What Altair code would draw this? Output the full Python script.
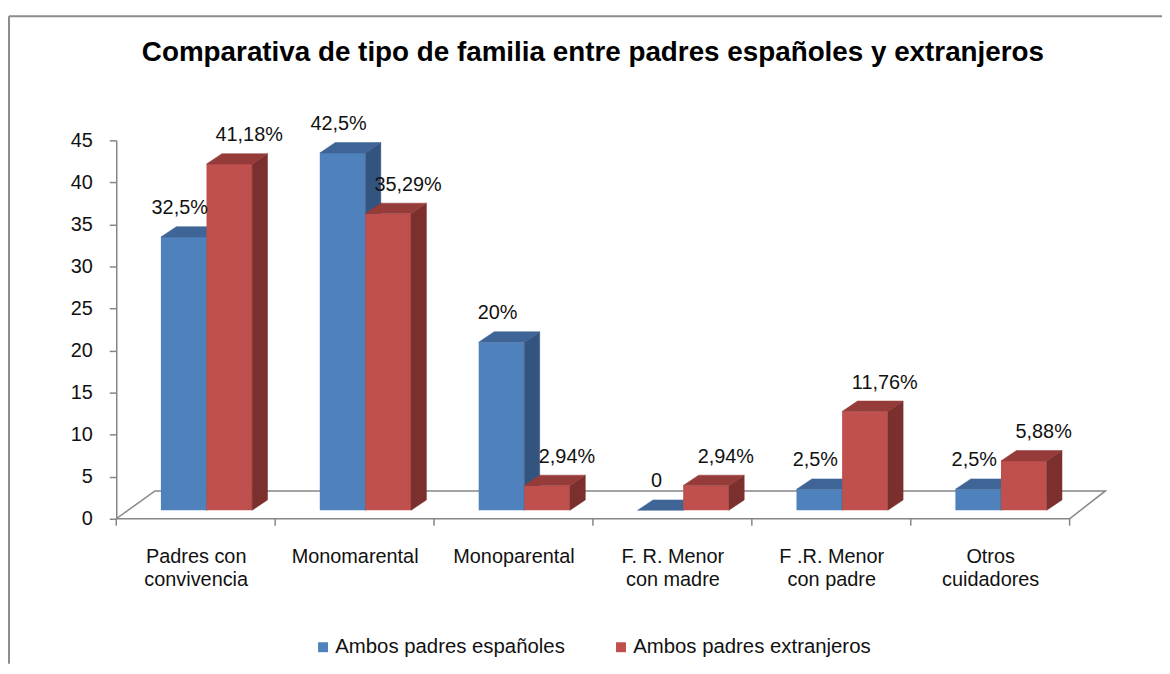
import altair as alt
import pandas as pd

# ---------------- data ----------------
categorias = ["Padres con\nconvivencia", "Monomarental", "Monoparental",
              "F. R. Menor\ncon madre", "F .R. Menor\ncon padre", "Otros\ncuidadores"]
series = ["Ambos padres españoles", "Ambos padres extranjeros"]
espanoles = [32.5, 42.5, 20, 0, 2.5, 2.5]
extranjeros = [41.18, 35.29, 2.94, 2.94, 11.76, 5.88]
y_ticks = [0, 5, 10, 15, 20, 25, 30, 35, 40, 45]

# ---------------- style ----------------
FONT = "Liberation Sans"
GRAY = "#868686"
FRAME = "#8c8c8c"
TXT = "#111111"
COLORS = {
    series[0]: {"front": "#4F81BD", "top": "#3E6596", "side": "#33547E"},
    series[1]: {"front": "#C0504D", "top": "#953B39", "side": "#7B302E"},
}
W, H = 1000, 381
XMAX = 6.25          # 160 px per category
BASE = 1.0           # bar base elevation (3D floor depth)
LEFT = 0.281         # first bar offset inside category
BW = 0.287           # bar width (category units)
DX = 0.097           # 3D depth dx (category units)
DY = 1.24            # 3D depth dy (value units)
FLOOR_DY = 3.31

def label_txt(v):
    if v == 0:
        return "0"
    return f"{v:g}".replace(".", ",") + "%"

fronts, tops, sides, labels = [], [], [], []
for s_i, (sname, vals) in enumerate(zip(series, [espanoles, extranjeros])):
    for c_i, v in enumerate(vals):
        xl = c_i + LEFT + s_i * BW
        xr = xl + BW
        t = BASE + v
        fronts.append(dict(serie=sname, x=xl, x2=xr, y=BASE, y2=t))
        fid = f"{s_i}-{c_i}"
        for xx, lo, hi in [(xl, t, t), (xl + DX, t, t + DY), (xr, t, t + DY), (xr + DX, t + DY, t + DY)]:
            tops.append(dict(serie=sname, id=fid, x=xx, lo=lo, hi=hi))
        for xx, lo, hi in [(xr, BASE, t), (xr + DX, BASE + DY, t + DY)]:
            sides.append(dict(serie=sname, id=fid, x=xx, lo=lo, hi=hi))
        labels.append(dict(serie=sname, x=(xl + xr) / 2, y=t, txt=label_txt(v)))

fronts = pd.DataFrame(fronts)
tops = pd.DataFrame(tops)
sides = pd.DataFrame(sides)
labels = pd.DataFrame(labels)

floor = pd.DataFrame({
    "x": [0, 6, 6.225, 0.244, 0],
    "y": [0, 0, FLOOR_DY, FLOOR_DY, 0],
    "o": [0, 1, 2, 3, 4],
})
bounds = pd.DataFrame({"x": list(range(7))})

# ---------------- scales / axes ----------------
xs = alt.Scale(domain=[0, XMAX], nice=False, zero=False)
ys = alt.Scale(domain=[0, 45], nice=False, zero=False)
lab_arr = ",".join("'" + c.replace("\n", "|") + "'" for c in categorias)
xaxis = alt.Axis(values=[i + 0.5 for i in range(6)],
                 labelExpr=f"split([{lab_arr}][floor(datum.value)], '|')",
                 ticks=False, tickSize=0, domain=False, grid=False, title=None,
                 labelFontSize=20, labelFont=FONT, labelColor=TXT,
                 labelPadding=28, labelLineHeight=23, labelBaseline="top",
                 labelAlign="center", labelFlush=False, labelOverlap=False)
yaxis = alt.Axis(values=y_ticks, grid=False, title=None,
                 domainColor=GRAY, domainWidth=1.5, tickColor=GRAY, tickWidth=1.5,
                 tickSize=7, labelFontSize=20, labelFont=FONT, labelColor=TXT,
                 labelPadding=17)

def X(f):
    return alt.X(f, type="quantitative", scale=xs, axis=xaxis)

def Y(f):
    return alt.Y(f, type="quantitative", scale=ys, axis=yaxis)

color_scale = alt.Scale(domain=series, range=[COLORS[s]["front"] for s in series])
legend = alt.Legend(title=None, orient="none", legendX=198, legendY=500,
                    direction="horizontal", symbolType="square", symbolSize=100,
                    symbolStrokeWidth=0, labelFontSize=20.5, labelFont=FONT,
                    labelColor=TXT, labelOffset=2, columnPadding=46, padding=0,
                    labelLimit=500)

# ---------------- layers ----------------
floor_line = alt.Chart(floor).mark_line(color=GRAY, strokeWidth=1.5).encode(
    x=X("x"), y=Y("y"), order="o:Q")

tick_rules = alt.Chart(bounds).mark_rule(color=GRAY, strokeWidth=1.5).encode(
    x=X("x"), y=alt.value(H), y2=alt.value(H + 7))

layers = [floor_line, tick_rules]
for sname in series:
    c = COLORS[sname]
    layers.append(
        alt.Chart(fronts[fronts.serie == sname]).mark_rect().encode(
            x=X("x"), x2="x2", y=Y("y"), y2="y2",
            color=alt.Color("serie:N", scale=color_scale, legend=legend))
    )
    layers.append(
        alt.Chart(sides[sides.serie == sname]).mark_area(
            color=c["side"], stroke=c["side"], strokeWidth=0.5, interpolate="linear").encode(
            x=X("x"), y=Y("hi"), y2="lo", detail="id:N")
    )
    layers.append(
        alt.Chart(tops[tops.serie == sname]).mark_area(
            color=c["top"], stroke=c["top"], strokeWidth=0.5, interpolate="linear").encode(
            x=X("x"), y=Y("hi"), y2="lo", detail="id:N")
    )

lab_esp = alt.Chart(labels[labels.serie == series[0]]).mark_text(
    fontSize=20, font=FONT, color=TXT, dx=-4, dy=-29, baseline="middle").encode(
    x=X("x"), y=Y("y"), text="txt:N")
lab_ext = alt.Chart(labels[labels.serie == series[1]]).mark_text(
    fontSize=20, font=FONT, color=TXT, dx=20, dy=-29, baseline="middle").encode(
    x=X("x"), y=Y("y"), text="txt:N")
layers += [lab_esp, lab_ext]

frame_top = alt.Chart(bounds.head(1)).mark_rule(color=FRAME, strokeWidth=2).encode(
    x=alt.value(-108), x2=alt.value(1060), y=alt.value(-125))
frame_left = alt.Chart(bounds.head(1)).mark_rule(color=FRAME, strokeWidth=2).encode(
    x=alt.value(-108), y=alt.value(-125), y2=alt.value(H + 146))
layers += [frame_top, frame_left]

chart = alt.layer(*layers).properties(
    width=W, height=H,
    title=alt.Title("Comparativa de tipo de familia entre padres españoles y extranjeros",
                    font=FONT, fontSize=28, fontWeight="bold", color="#000000",
                    anchor="middle", frame="group", dx=-20, dy=80, offset=0,
                    baseline="bottom"),
    autosize=alt.AutoSizeParams(type="none"),
    padding={"left": 109, "top": 131, "right": 53, "bottom": 146},
    background="white",
).configure_view(stroke=None)

chart.save("out.html", embed_options={"renderer": "svg", "actions": False})
